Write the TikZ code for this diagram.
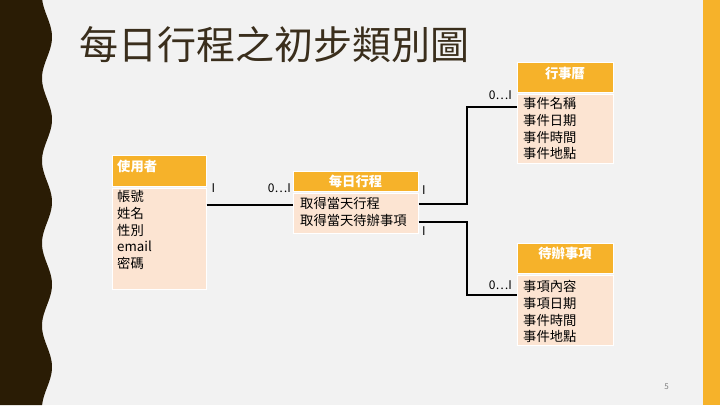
\documentclass[tikz,border=0pt]{standalone}
\usepackage{fontspec}
\setmainfont{Noto Sans CJK TC}
\usetikzlibrary{calc}
\definecolor{bg}{HTML}{F2F2F2}
\definecolor{band}{HTML}{2A1C05}
\definecolor{hdr}{HTML}{F6B22A}
\definecolor{bodyc}{HTML}{FCE4D2}
\definecolor{titlec}{HTML}{3A2E1C}
\tikzset{
  hbox/.style={fill=hdr, draw=white, line width=0.6pt, anchor=north west, inner sep=0pt},
  bbox/.style={fill=bodyc, draw=white, line width=0.6pt, anchor=north west, inner sep=0pt},
  htext/.style={text=white, font=\fontsize{13.3}{16}\selectfont\bfseries, inner sep=0pt},
  btext/.style={font=\fontsize{13.3}{16.7}\selectfont, align=left, anchor=north west, inner sep=0pt},
  conn/.style={line width=2pt, black},
  mult/.style={font=\fontsize{12}{14}\selectfont, inner sep=0pt}
}
\begin{document}
\begin{tikzpicture}[x=1pt,y=-1pt]
\useasboundingbox (0,0) rectangle (720,405);
\fill[bg] (0,0) rectangle (720,405);
\fill[hdr] (703,0) rectangle (720,405);
\fill[band] (0,0) -- plot[domain=0:405, samples=240] ({47+5*cos(4.3636*(\x-37))}, \x) -- (0,405) -- cycle;

\node[anchor=west, inner sep=0pt, text=titlec, font=\fontsize{39}{42}\selectfont] (title) at (79,45) {每日行程之初步類別圖};

% 使用者
\node[hbox, minimum width=94pt, minimum height=31pt] (usrhead) at (112,155) {};
\node[htext, anchor=west] (usrtitle) at (117,166.5) {使用者};
\node[bbox, minimum width=94pt, minimum height=101pt] (usrbody) at (112,188) {};
\node[btext] (usrtext) at (117,190.3) {帳號\\姓名\\性別\\email\\密碼};

% 每日行程
\node[hbox, minimum width=125pt, minimum height=20pt] (dayhead) at (293,171) {};
\node[htext] (daytitle) at (355.5,181) {每日行程};
\node[bbox, minimum width=125pt, minimum height=40pt] (daybody) at (293,193) {};
\node[btext] (daytext) at (300,197.3) {取得當天行程\\取得當天待辦事項};

% 行事曆
\node[hbox, minimum width=96pt, minimum height=30pt] (calhead) at (517,62) {};
\node[htext] (caltitle) at (565,73.5) {行事曆};
\node[bbox, minimum width=96pt, minimum height=69pt] (calbody) at (517,94) {};
\node[btext] (caltext) at (523,97.3) {事件名稱\\事件日期\\事件時間\\事件地點};

% 待辦事項
\node[hbox, minimum width=96pt, minimum height=30pt] (todohead) at (517,243) {};
\node[htext] (todotitle) at (565,253.5) {待辦事項};
\node[bbox, minimum width=96pt, minimum height=70pt] (todobody) at (517,275) {};
\node[btext] (todotext) at (523,280.3) {事項內容\\事項日期\\事件時間\\事件地點};

% connectors
\draw[conn] ([yshift=34.3pt]usrbody.east) -- ([yshift=34.3pt]usrbody.east -| daybody.west);
\draw[conn] ([yshift=9.7pt]daybody.east) -- ++(48,0) |- ([yshift=21.8pt]calbody.west);
\draw[conn] ([yshift=-8.7pt]daybody.east) -- ++(48,0) |- ([yshift=15pt]todobody.west);

% multiplicities
\node[mult] (m1) at (213.5,188) {I};
\node[mult, anchor=east] (m2) at (291,188) {0…I};
\node[mult] (m3) at (424,190) {I};
\node[mult] (m4) at (424,231) {I};
\node[mult, anchor=east] (m5) at (512,95) {0…I};
\node[mult, anchor=east] (m6) at (512,285) {0…I};

\node[text=gray, font=\fontsize{8}{9}\selectfont, inner sep=0pt] (pnum) at (666.7,386.5) {5};
\end{tikzpicture}
\end{document}
